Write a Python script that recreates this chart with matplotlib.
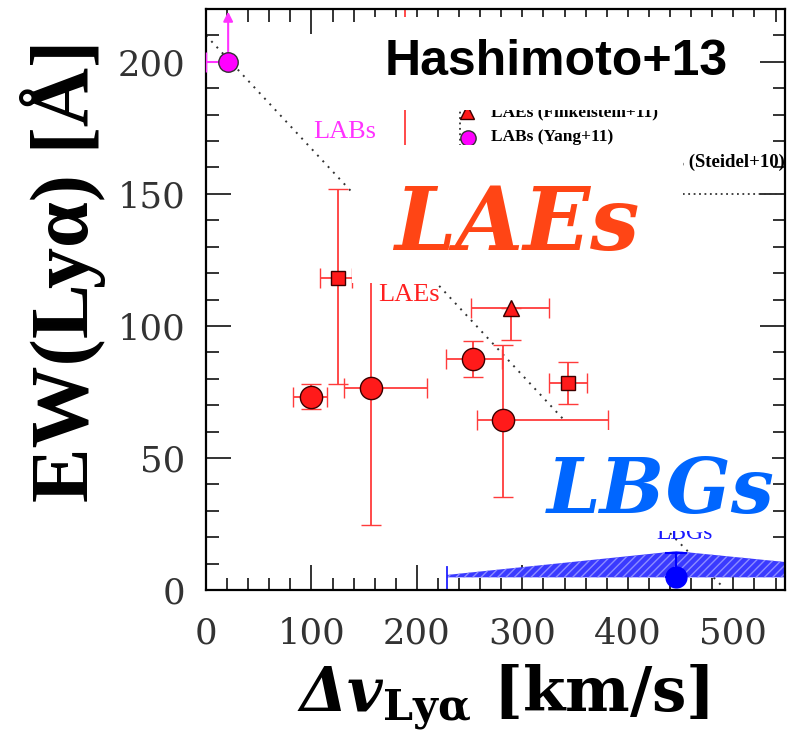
import matplotlib.pyplot as plt
from matplotlib.patches import Rectangle
from matplotlib.ticker import MultipleLocator

# math fonts for the axis label: rm slot is the slanted bold face (for the Delta)
plt.rcParams['mathtext.fontset'] = 'custom'
plt.rcParams['mathtext.rm'] = 'DejaVu Serif:italic:bold'
plt.rcParams['mathtext.it'] = 'DejaVu Serif:italic:bold'
plt.rcParams['mathtext.bf'] = 'DejaVu Serif:bold'
plt.rcParams['hatch.linewidth'] = 1.0

# LAEs, circles: velocity offset [km/s] and EW [A] with ranges
lae_v = [99.5, 156, 253, 281.5]
lae_v_lo = [82.5, 131, 227.5, 257]
lae_v_hi = [114.7, 209.5, 280.6, 381]
lae_ew = [73, 76.4, 87.3, 64.3]
lae_ew_lo = [68.5, 24.6, 80.5, 35.2]
lae_ew_hi = [78, 150, 94.1, 92.6]

# LAEs, squares
sq_v = [125, 343]
sq_v_lo = [108, 325]
sq_v_hi = [138, 361]
sq_ew = [118, 78.3]
sq_ew_lo = [78, 70.3]
sq_ew_hi = [152, 86.2]

# LAEs (Finkelstein+11), triangle
tri_v = [289]
tri_v_lo = [251]
tri_v_hi = [325]
tri_ew = [106.6]
tri_ew_lo = [94.5]

# LABs (Yang+11), lower limit in EW
lab_v = [21]
lab_v_lo = [0]
lab_ew = [200]
lab_ew_limit = 219

# LBGs (Steidel+10)
lbg_v = [446]
lbg_ew = [4.9]
lbg_ew_hi = [14]
lbg_band_v = [228.5, 446, 549]
lbg_band_top = [5.7, 14.7, 10.6]
lbg_band_bottom = 4.8

# dotted relation
trend_v = [0, 338]
trend_ew = [210, 65]
trend2_v = [440, 488]
trend2_ew = [21.5, 2.0]


def err(c, lo, hi):
    return [[a - b for a, b in zip(c, lo)], [b - a for a, b in zip(c, hi)]]


fig = plt.figure(figsize=(7.87, 7.35), dpi=100)
ax = fig.add_axes([206 / 787, 145 / 735, 579 / 787, 581 / 735])

red = '#ff1a1a'
ebkw = dict(ecolor='#ff3b3b', elinewidth=1.3, capsize=7, capthick=1.3, linestyle='none')

ax.plot(trend_v, trend_ew, color='#333333', lw=1.4, ls=(0, (1, 3)), zorder=2)
ax.plot(trend2_v, trend2_ew, color='#333333', lw=1.4, ls=(0, (1, 3)), zorder=2)

ax.errorbar(lae_v, lae_ew, xerr=err(lae_v, lae_v_lo, lae_v_hi),
            yerr=err(lae_ew, lae_ew_lo, lae_ew_hi), marker='o', ms=16,
            mfc=red, mec='#3a0000', mew=1.0, zorder=3, **ebkw)
ax.errorbar(sq_v, sq_ew, xerr=err(sq_v, sq_v_lo, sq_v_hi),
            yerr=err(sq_ew, sq_ew_lo, sq_ew_hi), marker='s', ms=10,
            mfc=red, mec='#3a0000', mew=1.0, zorder=3, **ebkw)
ax.errorbar(tri_v, tri_ew, xerr=err(tri_v, tri_v_lo, tri_v_hi),
            yerr=err(tri_ew, tri_ew_lo, tri_ew), marker='^', ms=12,
            mfc=red, mec='#3a0000', mew=1.0, zorder=3, **ebkw)

# LABs
ax.errorbar(lab_v, lab_ew, xerr=[[lab_v[0] - lab_v_lo[0]], [0]], marker='o',
            ms=14, mfc='#ff00ff', mec='#333333', mew=1.0, ecolor='#ff33ff',
            elinewidth=1.5, capsize=7, capthick=1.5, linestyle='none', zorder=4,
            clip_on=False)
ax.annotate('', xy=(lab_v[0], lab_ew_limit), xytext=(lab_v[0], lab_ew[0]),
            arrowprops=dict(arrowstyle='-|>', color='#ff33ff', lw=1.5,
                            mutation_scale=14, shrinkA=0, shrinkB=0), zorder=3)

# LBG band and point
ax.fill_between(lbg_band_v, lbg_band_bottom, lbg_band_top, facecolor='#3a3aff',
                edgecolor='#8c8cff', hatch='////', lw=0, zorder=2)
ax.plot([lbg_band_v[0], lbg_band_v[0]], [0, 8.7], color='#2020ff', lw=1.3, zorder=2)
ax.errorbar(lbg_v, lbg_ew, yerr=[[0], [lbg_ew_hi[0] - lbg_ew[0]]], marker='o',
            ms=15, mfc='#0000ff', mec='#0000ff', ecolor='#0000ff',
            elinewidth=1.5, capsize=8, capthick=1.5, linestyle='none', zorder=3)

# in-panel labels and legend entries
ax.text(101.5, 173.5, 'LABs', color='#ff33ff', family='Liberation Serif',
        fontsize=19, va='center', zorder=3)
ax.text(163, 109.6, 'LAEs', color='#ff2020', family='Liberation Serif',
        fontsize=19, va='baseline', zorder=3)
ax.text(454, 19.3, 'LBGs', color='#1a1aff', family='Liberation Serif',
        fontsize=17, ha='center', va='baseline', zorder=3)
ax.plot([189, 189], [168, 230], color='#ff3b3b', lw=1.3, zorder=2)
ax.plot([241, 241], [168, 190], color='#333333', lw=1.3, ls=(0, (1, 2)), zorder=2)
ax.plot([247.5], [181], marker='^', ms=10, mfc=red, mec='#3a0000', zorder=3)
ax.plot([248], [171], marker='o', ms=11, mfc='#ff00ff', mec='#333333', zorder=3)
ax.text(270, 179.4, 'LAEs (Finkelstein+11)', family='Liberation Serif',
        weight='bold', fontsize=12.5, va='baseline', zorder=3)
ax.text(270, 171.6, 'LABs (Yang+11)', family='Liberation Serif',
        weight='bold', fontsize=12.5, va='center', zorder=3)
ax.text(548.5, 161.8, 'LBGs (Steidel+10)', family='Liberation Serif',
        weight='bold', fontsize=13.5, ha='right', va='center', zorder=3)
ax.plot([380, 560], [150, 150], color='#333333', lw=1.3, ls=(0, (1, 2)), zorder=2)

ax.set_xlim(0, 549)
ax.set_ylim(0, 220)
ax.xaxis.set_major_locator(MultipleLocator(100))
ax.xaxis.set_minor_locator(MultipleLocator(20))
ax.yaxis.set_major_locator(MultipleLocator(50))
ax.yaxis.set_minor_locator(MultipleLocator(10))
ax.tick_params(which='both', direction='in', top=True, right=True,
               color='#333333', width=1.4)
ax.tick_params(which='major', length=18, pad=15, labelsize=25.5,
               labelcolor='#333333')
ax.tick_params(axis='x', which='major', pad=19)
ax.tick_params(which='minor', length=9)
for lab in ax.get_xticklabels() + ax.get_yticklabels():
    lab.set_family('DejaVu Serif')
for sp in ax.spines.values():
    sp.set_linewidth(1.6)

ax.set_xlabel(r'$\mathrm{Δ}v_{\mathbf{Ly\alpha}}$ [km/s]',
              family='DejaVu Serif', weight='bold', fontsize=44)
ax.xaxis.set_label_coords(0.513, -0.125)
ax.set_ylabel('EW(Lyα) [Å]', family='Liberation Serif', weight='bold',
              fontsize=59)
ax.yaxis.set_label_coords(-0.172, 0.55)

# white panels holding the overlay annotations
for x0, y0, w, h in [(0.287, 0.826, 0.670, 0.160),
                     (0.252, 0.528, 0.572, 0.238),
                     (0.551, 0.101, 0.427, 0.174)]:
    ax.add_patch(Rectangle((x0, y0), w, h, transform=ax.transAxes,
                           facecolor='white', edgecolor='none', zorder=6))

ax.text(0.605, 0.909, 'Hashimoto+13', transform=ax.transAxes,
        family='Liberation Sans', weight='bold', fontsize=36,
        ha='center', va='center', zorder=7)
ax.text(0.537, 0.585, 'LAEs', transform=ax.transAxes, color='#ff4515',
        family='DejaVu Serif', weight='bold', style='italic', fontsize=63,
        ha='center', va='baseline', zorder=7)
ax.text(0.786, 0.1325, 'LBGs', transform=ax.transAxes, color='#0066ff',
        family='DejaVu Serif', weight='bold', style='italic', fontsize=55,
        ha='center', va='baseline', zorder=7)

fig.savefig('out.png', dpi=100)
